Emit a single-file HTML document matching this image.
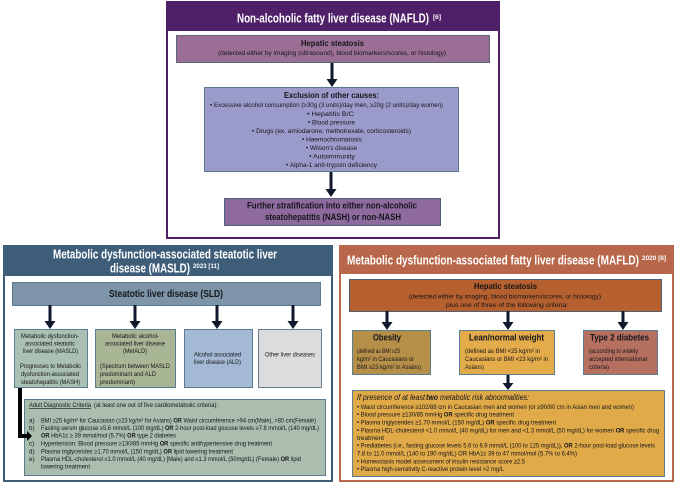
<!DOCTYPE html>
<html><head><meta charset="utf-8"><style>
html,body{margin:0;padding:0;background:#fff;width:677px;height:484px;overflow:hidden}
svg{display:block;filter:blur(.3px)}
text{font-family:"Liberation Sans",sans-serif;fill:#15151a;font-size:6.2px}
.b{font-weight:bold}
.w{fill:#fff;font-weight:bold;font-size:12.5px}
.s{fill:#fff;font-weight:bold;font-size:6.5px}
.h{font-weight:bold;font-size:8.4px}
.l{font-size:6.6px}
tspan.o{font-weight:bold}
</style></head><body>
<svg width="677" height="484" viewBox="0 0 677 484" xmlns="http://www.w3.org/2000/svg">
<!-- NAFLD panel -->
<rect x="167" y="2" width="332" height="236" fill="#fff" stroke="#4f1f68" stroke-width="2"/>
<rect x="166" y="1" width="334" height="30" fill="#4f1f68"/>
<rect x="176.500" y="35.500" width="313" height="27" fill="#9b6f95" stroke="#5d6478"/>
<rect x="204.500" y="87.500" width="254" height="84" fill="#9b9bcb" stroke="#5b7a92"/>
<rect x="224.500" y="198.500" width="216" height="27" fill="#8e6a9f" stroke="#4f5f78"/>
<path d="M330.500 63h3v16h4l-5.500 8-5.500-8h4z" fill="#10182c"/>
<path d="M329.500 172h3v17h4l-5.500 8-5.500-8h4z" fill="#10182c"/>
<text class="w" x="237" y="22.500" textLength="192" lengthAdjust="spacingAndGlyphs">Non-alcoholic fatty liver disease (NAFLD)</text>
<text class="s" x="433" y="19" textLength="8" lengthAdjust="spacingAndGlyphs">[6]</text>
<text class="h" x="301" y="46" textLength="63" lengthAdjust="spacingAndGlyphs">Hepatic steatosis</text>
<text x="218" y="55" textLength="228" lengthAdjust="spacingAndGlyphs">(detected either by imaging (ultrasound), blood biomarkers/scores, or histology)</text>
<text class="h" x="284" y="98" textLength="95" lengthAdjust="spacingAndGlyphs">Exclusion of other causes:</text>
<text x="210" y="107" textLength="233" lengthAdjust="spacingAndGlyphs">• Excessive alcohol consumption (≥30g (3 units)/day men, ≥20g (2 units)/day women)</text>
<text x="307" y="116" textLength="47" lengthAdjust="spacingAndGlyphs">• Hepatitis B/C</text>
<text x="308" y="124.500" textLength="47" lengthAdjust="spacingAndGlyphs">• Blood pressure</text>
<text x="252" y="133" textLength="159" lengthAdjust="spacingAndGlyphs">• Drugs (ex. amiodarone, methotrexate, corticosteroids)</text>
<text x="302" y="141.500" textLength="60" lengthAdjust="spacingAndGlyphs">• Haemochromatosis</text>
<text x="306" y="150" textLength="51" lengthAdjust="spacingAndGlyphs">• Wilson’s disease</text>
<text x="309" y="158.500" textLength="46" lengthAdjust="spacingAndGlyphs">• Autoimmunity</text>
<text x="286" y="167" textLength="91" lengthAdjust="spacingAndGlyphs">• Alpha-1 anti-trypsin deficiency</text>
<text class="h" x="247" y="208.700" textLength="170" lengthAdjust="spacingAndGlyphs" style="font-size:9px">Further stratification into either non-alcoholic</text>
<text class="h" x="265" y="219.800" textLength="136" lengthAdjust="spacingAndGlyphs" style="font-size:9px">steatohepatitis (NASH) or non-NASH</text>

<!-- MASLD panel -->
<rect x="4" y="246" width="328" height="235" fill="#fff" stroke="#3e5d79" stroke-width="2"/>
<rect x="3" y="245" width="330" height="31" fill="#3e5d79"/>
<rect x="12.500" y="282.500" width="308" height="23" fill="#7d94a9" stroke="#5a7d96"/>
<g fill="#10182c">
<path d="M48.500 305h3v16h4l-5.500 8-5.500-8h4z"/>
<path d="M133.500 305h3v16h4l-5.500 8-5.500-8h4z"/>
<path d="M215.500 305h3v16h4l-5.500 8-5.500-8h4z"/>
<path d="M291.500 305h3v16h4l-5.500 8-5.500-8h4z"/>
</g>
<rect x="14.500" y="329.500" width="73" height="58" fill="#a9c0b2" stroke="#5a7d90"/>
<rect x="95.500" y="329.500" width="80" height="58" fill="#a9b695" stroke="#5a7d90"/>
<rect x="184.500" y="329.500" width="68" height="58" fill="#a3b9d5" stroke="#5a7d90"/>
<rect x="258.500" y="329.500" width="63" height="58" fill="#dcdcdc" stroke="#6a7f8e"/>
<rect x="24.500" y="399.500" width="301" height="76" fill="#aabdae" stroke="#5a7d90"/>
<path d="M18 388h4v46h5v-3l5 5-5 5v-3h-9z" fill="#05060a"/>
<text class="w" x="53" y="258.700" textLength="224" lengthAdjust="spacingAndGlyphs">Metabolic dysfunction-associated steatotic liver</text>
<text class="w" x="110" y="272.300" textLength="80" lengthAdjust="spacingAndGlyphs">disease (MASLD)</text>
<text class="s" x="193" y="268" textLength="26" lengthAdjust="spacingAndGlyphs">2023 [11]</text>
<text class="b" x="109" y="297" textLength="114" lengthAdjust="spacingAndGlyphs" style="font-size:10px">Steatotic liver disease (SLD)</text>
<text x="21" y="338" textLength="58" lengthAdjust="spacingAndGlyphs">Metabolic dysfunction-</text>
<text x="25" y="345.700" textLength="50" lengthAdjust="spacingAndGlyphs">associated steatotic</text>
<text x="23" y="353" textLength="55" lengthAdjust="spacingAndGlyphs">liver disease (MASLD)</text>
<text x="20" y="368" textLength="61" lengthAdjust="spacingAndGlyphs">Progresses to Metabolic</text>
<text x="21" y="376" textLength="58" lengthAdjust="spacingAndGlyphs">dysfunction-associated</text>
<text x="21" y="384" textLength="59" lengthAdjust="spacingAndGlyphs">steatohepatitis (MASH)</text>
<text x="112" y="338" textLength="47" lengthAdjust="spacingAndGlyphs">Metabolic alcohol-</text>
<text x="105" y="345.700" textLength="60" lengthAdjust="spacingAndGlyphs">associated liver disease</text>
<text x="123" y="353" textLength="24" lengthAdjust="spacingAndGlyphs">(MetALD)</text>
<text x="100" y="368" textLength="70" lengthAdjust="spacingAndGlyphs">(Spectrum between MASLD</text>
<text x="100" y="376" textLength="56" lengthAdjust="spacingAndGlyphs">predominant and ALD</text>
<text x="100" y="384" textLength="35" lengthAdjust="spacingAndGlyphs">predominant)</text>
<text x="194" y="356.700" textLength="47" lengthAdjust="spacingAndGlyphs">Alcohol associated</text>
<text x="194" y="364" textLength="47" lengthAdjust="spacingAndGlyphs">liver disease (ALD)</text>
<text x="265" y="356.700" textLength="50" lengthAdjust="spacingAndGlyphs">Other liver diseases</text>
<text x="29" y="407" textLength="62" lengthAdjust="spacingAndGlyphs" text-decoration="underline">Adult Diagnostic Criteria</text>
<text x="94" y="407" textLength="124" lengthAdjust="spacingAndGlyphs">(at least one out of five cardiometabolic criteria):</text>
<text x="29" y="422.700">a)</text>
<text x="41" y="422.700" textLength="275" lengthAdjust="spacingAndGlyphs">BMI ≥25 kg/m² for Caucasian (≥23 kg/m² for Asians) <tspan class="o">OR</tspan> Waist circumference &gt;94 cm(Male), &gt;80 cm(Female)</text>
<text x="29" y="429.800">b)</text>
<text x="41" y="429.800" textLength="278" lengthAdjust="spacingAndGlyphs">Fasting serum glucose ≥5.6 mmol/L (100 mg/dL) <tspan class="o">OR</tspan> 2-hour post-load glucose levels ≥7.8 mmol/L (140 mg/dL)</text>
<text x="41" y="437.700" textLength="135" lengthAdjust="spacingAndGlyphs"><tspan class="o">OR</tspan> HbA1c ≥ 39 mmol/mol (5.7%) <tspan class="o">OR</tspan> type 2 diabetes</text>
<text x="29" y="445.700">c)</text>
<text x="41" y="445.700" textLength="231" lengthAdjust="spacingAndGlyphs">Hypertension: Blood pressure ≥130/85 mmHg <tspan class="o">OR</tspan> specific antihypertensive drug treatment</text>
<text x="29" y="453.300">d)</text>
<text x="41" y="453.300" textLength="192" lengthAdjust="spacingAndGlyphs">Plasma triglycerides ≥1.70 mmol/L (150 mg/dL) <tspan class="o">OR</tspan> lipid lowering treatment</text>
<text x="29" y="461">e)</text>
<text x="41" y="461" textLength="260" lengthAdjust="spacingAndGlyphs">Plasma HDL-cholesterol ≤1.0 mmol/L (40 mg/dL) [Male) and ≤1.3 mmol/L (50mg/dL) (Female) <tspan class="o">OR</tspan> lipid</text>
<text x="41" y="468.700" textLength="49" lengthAdjust="spacingAndGlyphs">lowering treatment</text>

<!-- MAFLD panel -->
<rect x="340" y="246" width="333" height="235" fill="#fff" stroke="#b8674a" stroke-width="2"/>
<rect x="339" y="245" width="335" height="29" fill="#b8674a"/>
<rect x="349.500" y="279.500" width="312" height="32" fill="#b5602e" stroke="#54606e"/>
<g fill="#10182c">
<path d="M385.500 311h3v11h4l-5.500 8-5.500-8h4z"/>
<path d="M506.500 311h3v11h4l-5.500 8-5.500-8h4z"/>
<path d="M621.500 311h3v11h4l-5.500 8-5.500-8h4z"/>
<path d="M506.500 375h3v8h4l-5.500 7-5.500-7h4z"/>
</g>
<rect x="352.500" y="330.500" width="78" height="44" fill="#b68f48" stroke="#5a7d90"/>
<rect x="459.500" y="330.500" width="95" height="44" fill="#e3ab4a" stroke="#5a7d90"/>
<rect x="583.500" y="330.500" width="74" height="44" fill="#b5705f" stroke="#5a7d90"/>
<rect x="352.500" y="390.500" width="312" height="86" fill="#e0aa48" stroke="#5a7d90"/>
<text class="w" x="347" y="264.500" textLength="292" lengthAdjust="spacingAndGlyphs">Metabolic dysfunction-associated fatty liver disease (MAFLD)</text>
<text class="s" x="642" y="260" textLength="24" lengthAdjust="spacingAndGlyphs">2020 [8]</text>
<text class="h" x="474" y="289" textLength="63" lengthAdjust="spacingAndGlyphs">Hepatic steatosis</text>
<text x="409" y="298.700" textLength="192" lengthAdjust="spacingAndGlyphs">(detected either by imaging, blood biomarkers/scores, or histology)</text>
<text x="446" y="307" textLength="122" lengthAdjust="spacingAndGlyphs">plus one of three of the following criteria:</text>
<text class="h" x="373" y="340.700" textLength="28" lengthAdjust="spacingAndGlyphs" style="font-size:9px">Obesity</text>
<text class="h" x="469" y="340.700" textLength="75" lengthAdjust="spacingAndGlyphs" style="font-size:9px">Lean/normal weight</text>
<text class="h" x="590" y="340.700" textLength="59" lengthAdjust="spacingAndGlyphs" style="font-size:9px">Type 2 diabetes</text>
<text x="357" y="353" textLength="43" lengthAdjust="spacingAndGlyphs">(defined as BMI ≥25</text>
<text x="357" y="361" textLength="57" lengthAdjust="spacingAndGlyphs">kg/m² in Caucasians or</text>
<text x="357" y="369" textLength="64" lengthAdjust="spacingAndGlyphs">BMI ≥23 kg/m² in Asians)</text>
<text x="465" y="353" textLength="75" lengthAdjust="spacingAndGlyphs">(defined as BMI &lt;25 kg/m² in</text>
<text x="465" y="361" textLength="83" lengthAdjust="spacingAndGlyphs">Caucasians or BMI &lt;23 kg/m² in</text>
<text x="465" y="369" textLength="19" lengthAdjust="spacingAndGlyphs">Asians)</text>
<text x="589" y="353" textLength="49" lengthAdjust="spacingAndGlyphs">(according to widely</text>
<text x="589" y="361" textLength="58" lengthAdjust="spacingAndGlyphs">accepted international</text>
<text x="589" y="369" textLength="20" lengthAdjust="spacingAndGlyphs">criteria)</text>
<text x="357" y="400" textLength="68" lengthAdjust="spacingAndGlyphs" style="font-size:8px;font-style:italic">If presence of at least</text>
<text x="426" y="400" textLength="12" lengthAdjust="spacingAndGlyphs" style="font-size:8px;font-style:italic;font-weight:bold">two</text>
<text x="440" y="400" textLength="89" lengthAdjust="spacingAndGlyphs" style="font-size:8px;font-style:italic">metabolic risk abnormalities:</text>
<text class="l" x="357" y="409" textLength="277" lengthAdjust="spacingAndGlyphs">• Waist circumference ≥102/88 cm in Caucasian men and women (or ≥90/80 cm in Asian men and women)</text>
<text class="l" x="357" y="416.700" textLength="157" lengthAdjust="spacingAndGlyphs">• Blood pressure ≥130/85 mmHg <tspan class="o">OR</tspan> specific drug treatment</text>
<text class="l" x="357" y="424.300" textLength="199" lengthAdjust="spacingAndGlyphs">• Plasma triglycerides ≥1.70 mmol/L (150 mg/dL) <tspan class="o">OR</tspan> specific drug treatment</text>
<text class="l" x="357" y="432.700" textLength="302" lengthAdjust="spacingAndGlyphs">• Plasma HDL-cholesterol &lt;1.0 mmol/L (40 mg/dL) for men and &lt;1.3 mmol/L (50 mg/dL) for women <tspan class="o">OR</tspan> specific drug</text>
<text class="l" x="357" y="440" textLength="27" lengthAdjust="spacingAndGlyphs">treatment</text>
<text class="l" x="357" y="447.300" textLength="298" lengthAdjust="spacingAndGlyphs">• Prediabetes (i.e., fasting glucose levels 5.6 to 6.9 mmol/L (100 to 125 mg/dL)), <tspan class="o">OR</tspan> 2-hour post-load glucose levels</text>
<text class="l" x="357" y="455.300" textLength="220" lengthAdjust="spacingAndGlyphs">7.8 to 11.0 mmol/L (140 to 190 mg/dL) OR HbA1c 39 to 47 mmol/mol (5.7% to 6.4%)</text>
<text class="l" x="357" y="463.300" textLength="168" lengthAdjust="spacingAndGlyphs">• Homeostasis model assessment of insulin resistance score ≥2.5</text>
<text class="l" x="357" y="471" textLength="147" lengthAdjust="spacingAndGlyphs">• Plasma high-sensitivity C-reactive protein level &gt;2 mg/L</text>
</svg>
</body></html>
